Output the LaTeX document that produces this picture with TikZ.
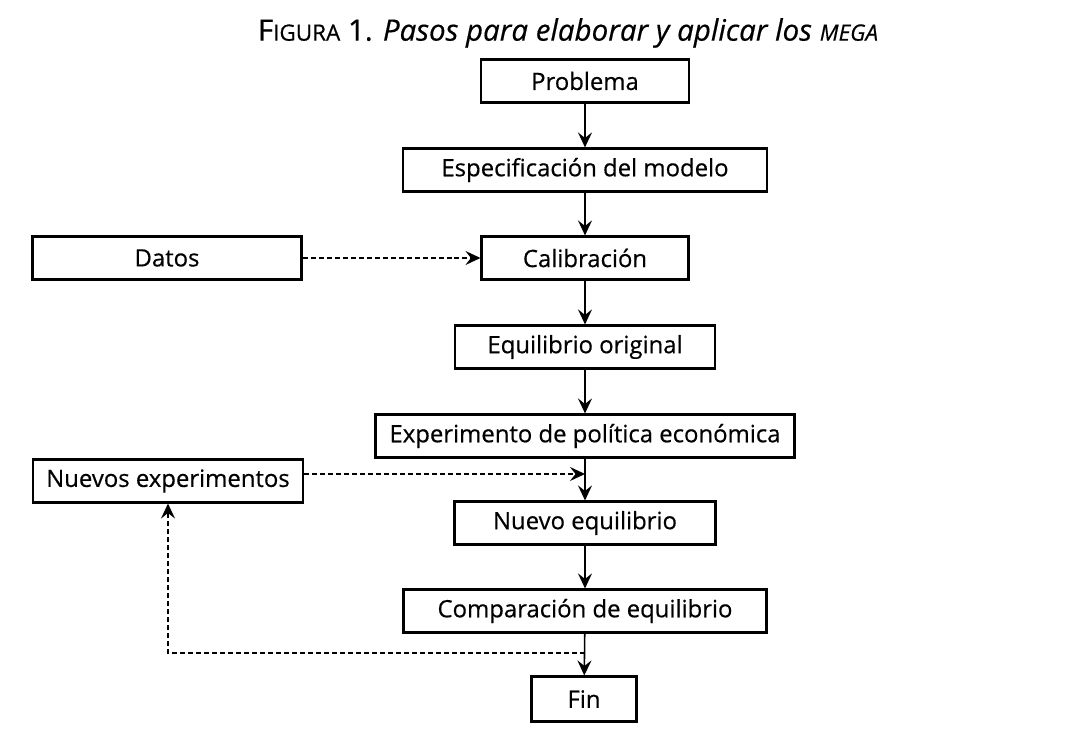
\documentclass[tikz,border=0pt]{standalone}
\usepackage{fontspec}
\setmainfont{Open Sans}[FakeBold=0.5]
\usetikzlibrary{positioning}
\usetikzlibrary{arrows.meta}

\newcommand{\smcap}[1]{{\fontsize{12.8}{15}\selectfont #1}}

\begin{document}
\begin{tikzpicture}[x=0.02cm,y=-0.02cm,
% Box style
    box/.style={rectangle,draw,line width=1.2pt,minimum height=0.86cm,
		inner sep=0pt,font=\fontsize{13.6}{16}\selectfont},
% Arrow styles
    flow/.style={line width=0.9pt,-{Stealth[length=3mm,width=2.8mm,inset=1.1mm]}},
    back/.style={flow,dash pattern=on 1mm off 0.6mm}
    ]
  \useasboundingbox (0,0) rectangle (1076,746);
  \node (title) [font=\fontsize{16.8}{20}\selectfont] at (568,33)
    {F\smcap{IGURA} 1. \textit{Pasos para elaborar y aplicar los \smcap{MEGA}}};

% Main column
  \node (prob) [box,minimum width=4.16cm] at (585,81) {Problema};
  \node (espec) [box,minimum width=7.28cm] at (585,170) {Especificación del modelo};
  \node (calib) [box,minimum width=4.14cm] at (585,258) {Calibración};
  \node (equil) [box,minimum width=5.2cm] at (585,347) {Equilibrio original};
  \node (exper) [box,minimum width=8.38cm] at (585,436) {Experimento de política económica};
  \node (nuevo) [box,minimum width=5.22cm] at (585,523) {Nuevo equilibrio};
  \node (comp) [box,minimum width=7.26cm] at (585,611) {Comparación de equilibrio};
  \node (fin) [box,minimum width=2.1cm,minimum height=0.9cm] at (584,699) {Fin};

% Side boxes
  \node (datos) [box,minimum width=5.38cm] at (167,258) {Datos};
  \node (nuevos) [box,minimum width=5.4cm] at (168,481) {Nuevos experimentos};

  \coordinate (j1) at (585,474);
  \coordinate (j2) at (585,653);

\draw[flow] (prob) -- (espec);
\draw[flow] (espec) -- (calib);
\draw[flow] (calib) -- (equil);
\draw[flow] (equil) -- (exper);
\draw[flow] (exper) -- (nuevo);
\draw[flow] (nuevo) -- (comp);
\draw[flow] (comp) -- (fin);
\draw[back] (datos) -- (calib);
\draw[back] (nuevos.east |- j1) -- (j1);
\draw[back] (j2) -| (nuevos.south);

\end{tikzpicture}
\end{document}
